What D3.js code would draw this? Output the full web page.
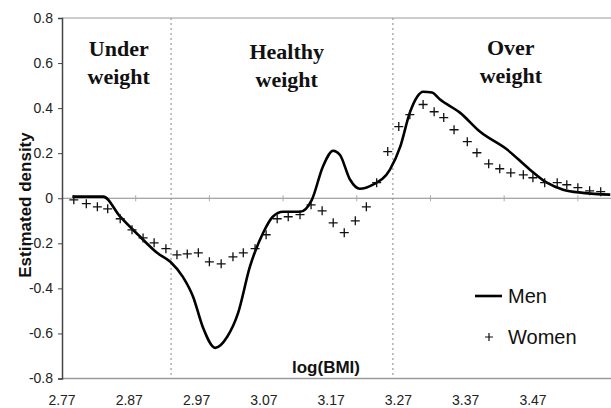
<!DOCTYPE html>
<html>
<head>
<meta charset="utf-8">
<script src="https://cdn.jsdelivr.net/npm/d3@7"></script>
<style>
  body { margin: 0; background: #fff; }
  svg { display: block; }
  .tick-lbl { font-family: "Liberation Sans", Arial, sans-serif; font-size: 14px; fill: #222; }
  .zone { font-family: "Liberation Serif", "Times New Roman", serif; font-size: 22px; font-weight: bold; fill: #111; }
  .axis-title { font-family: "Liberation Sans", Arial, sans-serif; font-size: 17px; font-weight: bold; fill: #111; }
  .legend { font-family: "Liberation Sans", Arial, sans-serif; font-size: 20px; fill: #111; }
</style>
</head>
<body>
<svg id="chart" width="611" height="408"></svg>
<script>
// men: smooth line, log(BMI) vs estimated density
const menX = [2.784, 2.805, 2.826, 2.849, 2.876, 2.899, 2.917, 2.934, 2.948, 2.961, 2.978, 2.994,
    3.009, 3.025, 3.043, 3.056, 3.070, 3.093, 3.109, 3.124, 3.138, 3.147, 3.161, 3.174, 3.192,
    3.215, 3.229, 3.242, 3.252, 3.260, 3.272, 3.283, 3.310, 3.337, 3.374, 3.405, 3.428, 3.450,
    3.477, 3.514];
const menY = [0.007, 0.007, 0.007, -0.082, -0.171, -0.242, -0.282, -0.349, -0.438, -0.571, -0.664, -0.616,
    -0.509, -0.304, -0.153, -0.082, -0.060, -0.060, -0.007, 0.140, 0.211, 0.193, 0.082, 0.042, 0.060,
    0.127, 0.229, 0.380, 0.451, 0.473, 0.469, 0.438, 0.380, 0.296, 0.216, 0.127, 0.069, 0.038,
    0.024, 0.016];

// women: "+" markers
const womenX = [2.786, 2.803, 2.818, 2.832, 2.849, 2.865, 2.880, 2.895, 2.911, 2.926, 2.940, 2.955,
    2.970, 2.986, 3.002, 3.016, 3.032, 3.047, 3.062, 3.077, 3.093, 3.108, 3.123, 3.138,
    3.153, 3.168, 3.183, 3.197, 3.212, 3.227, 3.242, 3.260, 3.275, 3.288, 3.302, 3.320,
    3.333, 3.349, 3.364, 3.379, 3.396, 3.409, 3.425, 3.442, 3.455, 3.470, 3.486, 3.501];
const womenY = [-0.007, -0.024, -0.038, -0.047, -0.091, -0.140, -0.176, -0.198, -0.224, -0.251, -0.247, -0.242,
    -0.282, -0.291, -0.260, -0.242, -0.224, -0.162, -0.091, -0.082, -0.073, -0.029, -0.056, -0.109,
    -0.153, -0.100, -0.038, 0.069, 0.207, 0.318, 0.371, 0.416, 0.384, 0.358, 0.304, 0.251,
    0.202, 0.153, 0.131, 0.113, 0.104, 0.091, 0.069, 0.069, 0.060, 0.047, 0.033, 0.029];

const xLabels = ["2.77", "2.87", "2.97", "3.07", "3.17", "3.27", "3.37", "3.47"];
const yTicks = [-0.8, -0.6, -0.4, -0.2, 0, 0.2, 0.4, 0.6, 0.8];
const zeroTicks = [2.87, 2.97, 3.07, 3.17, 3.27, 3.37, 3.47];
const boundaries = [2.918, 3.219];   // log(18.5), log(25)
const zones = [
    { lines: ["Under", "weight"], x: 2.847, y: 0.63 },
    { lines: ["Healthy", "weight"], x: 3.075, y: 0.62 },
    { lines: ["Over", "weight"], x: 3.379, y: 0.635 }
];

const svg = d3.select("#chart");

const x = d3.scaleLinear().domain([2.77, 3.52]).range([62, 614.7]);
const y = d3.scaleLinear().domain([-0.8, 0.8]).range([378.5, 18]);
const xl = d3.scalePoint().domain(xLabels).range([62, 533]);

// frame lines top / bottom
svg.append("line")
    .attr("x1", x(2.77)).attr("x2", 611)
    .attr("y1", y(0.8)).attr("y2", y(0.8))
    .attr("stroke", "#9a9a9a").attr("stroke-width", 1);
svg.append("line")
    .attr("x1", x(2.77)).attr("x2", 611)
    .attr("y1", y(-0.8)).attr("y2", y(-0.8))
    .attr("stroke", "#9a9a9a").attr("stroke-width", 1.5);

// dotted zone boundaries
svg.selectAll(".bound")
    .data(boundaries)
    .enter().append("line")
    .attr("class", "bound")
    .attr("x1", d => x(d)).attr("x2", d => x(d))
    .attr("y1", y(0.8)).attr("y2", y(-0.8))
    .attr("stroke", "#999").attr("stroke-width", 1.2)
    .attr("stroke-dasharray", "2,3");

// zero line with ticks
svg.append("line")
    .attr("x1", x(2.77)).attr("x2", 611)
    .attr("y1", y(0)).attr("y2", y(0))
    .attr("stroke", "#8a8a8a").attr("stroke-width", 1.2);
svg.selectAll(".ztick")
    .data(zeroTicks)
    .enter().append("line")
    .attr("class", "ztick")
    .attr("x1", d => x(d)).attr("x2", d => x(d))
    .attr("y1", y(0) - 3).attr("y2", y(0) + 3)
    .attr("stroke", "#aaa").attr("stroke-width", 1);

// y axis
const yAxis = svg.append("g")
    .attr("transform", `translate(${x(2.77)},0)`)
    .call(d3.axisLeft(y).tickValues(yTicks).tickSize(4).tickPadding(5)
        .tickFormat(d => d === 0 ? "0" : d.toFixed(1)));
yAxis.select(".domain").attr("stroke", "#444").attr("stroke-width", 1.5);
yAxis.selectAll(".tick line").attr("stroke", "#444");
yAxis.selectAll(".tick text").attr("class", "tick-lbl").attr("font-size", null).attr("font-family", null).attr("fill", null);
yAxis.attr("font-size", null).attr("font-family", null);

// x labels at bottom
svg.selectAll(".xlbl")
    .data(xLabels)
    .enter().append("text")
    .attr("class", "tick-lbl")
    .attr("x", d => xl(d))
    .attr("y", 405)
    .attr("text-anchor", "middle")
    .text(d => d);

// axis titles
svg.append("text")
    .attr("class", "axis-title")
    .attr("transform", "translate(31,205) rotate(-90)")
    .attr("text-anchor", "middle")
    .text("Estimated density");
svg.append("text")
    .attr("class", "axis-title")
    .attr("x", 326).attr("y", 373)
    .attr("text-anchor", "middle")
    .text("log(BMI)");

// zone labels
zones.forEach(z => {
    const t = svg.append("text")
        .attr("class", "zone")
        .attr("text-anchor", "middle");
    z.lines.forEach((ln, i) => {
        t.append("tspan")
            .attr("x", x(z.x))
            .attr("y", y(z.y) + i * 28)
            .text(ln);
    });
});

// men line
const menData = menX.map((v, i) => [v, menY[i]]);
svg.append("path")
    .datum(menData)
    .attr("fill", "none")
    .attr("stroke", "#000")
    .attr("stroke-width", 2.6)
    .attr("stroke-linejoin", "round")
    .attr("d", d3.line().x(d => x(d[0])).y(d => y(d[1])).curve(d3.curveMonotoneX));

// women crosses
const womenData = womenX.map((v, i) => [v, womenY[i]]);
svg.selectAll(".w")
    .data(womenData)
    .enter().append("path")
    .attr("class", "w")
    .attr("transform", d => `translate(${x(d[0])},${y(d[1])})`)
    .attr("d", "M-4.5,0H4.5M0,-4.5V4.5")
    .attr("stroke", "#111")
    .attr("stroke-width", 1.3)
    .attr("fill", "none");

// legend
svg.append("line")
    .attr("x1", 475).attr("x2", 502)
    .attr("y1", 296).attr("y2", 296)
    .attr("stroke", "#000").attr("stroke-width", 2.6);
svg.append("text").attr("class", "legend").attr("x", 508).attr("y", 303).text("Men");
svg.append("path")
    .attr("transform", "translate(489,337)")
    .attr("d", "M-4,0H4M0,-4V4")
    .attr("stroke", "#111").attr("stroke-width", 1.2);
svg.append("text").attr("class", "legend").attr("x", 508).attr("y", 344).text("Women");
</script>
</body>
</html>
